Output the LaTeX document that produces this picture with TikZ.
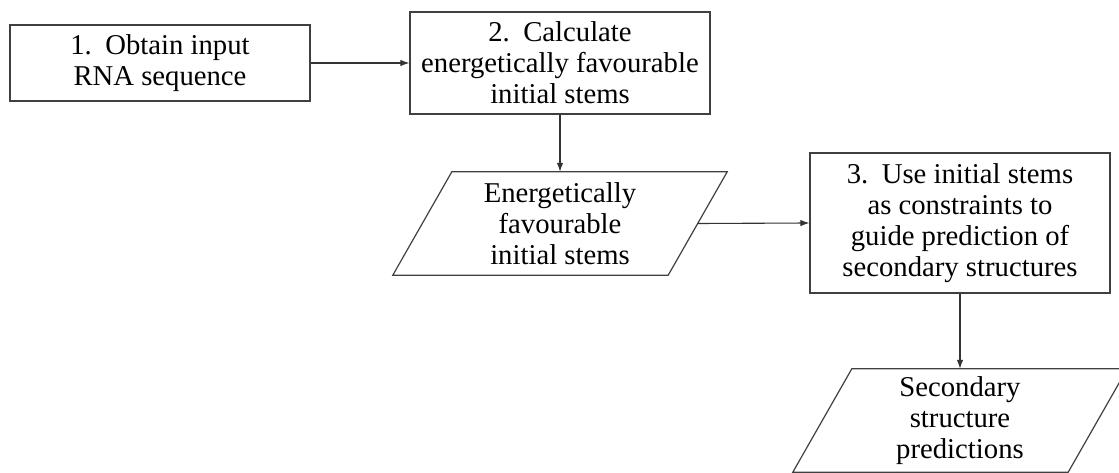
\documentclass[tikz,border=0pt]{standalone}
\usepackage{fontspec}
\setmainfont{Liberation Serif}
\usetikzlibrary{arrows.meta,calc}
\newcommand{\numsp}{\hspace{0.22em}}
\begin{document}
\begin{tikzpicture}[x=1pt,y=-1pt,
  every node/.style={font=\fontsize{28.7}{31}\selectfont, align=center, inner sep=0pt},
  stepbox/.style={draw=black!75, line width=1.2pt, minimum width=300pt},
  databox/.style={draw=none, minimum width=334pt, minimum height=103pt},
  para/.style={draw=black!75, line width=1.2pt},
  conn/.style={draw=black!80, line width=1.1pt, -{Latex[length=9pt,width=6.5pt]}}]
\useasboundingbox (0,0) rectangle (1119,473);
\clip (0,0) rectangle (1119,473);
\node[stepbox, minimum height=76pt] (b1) at (160,63) {1.~\numsp Obtain input\\RNA sequence};
\node[stepbox, minimum height=102pt] (b2) at (560,63) {2.~\numsp Calculate\\energetically favourable\\initial stems};
\node[databox] (p1) at (560,223.5) {Energetically\\favourable\\initial stems};
\node[stepbox, minimum height=140pt] (b3) at (960,223) {3.~\numsp Use initial stems\\as constraints to\\guide prediction of\\secondary structures};
\node[databox] (p2) at (960,420.5) {Secondary\\structure\\predictions};
\draw[para] (p1.south west) -- ($(p1.north west)+(59,0)$) -- (p1.north east) -- ($(p1.south east)-(59,0)$) -- cycle;
\draw[para] (p2.south west) -- ($(p2.north west)+(59,0)$) -- (p2.north east) -- ($(p2.south east)-(59,0)$) -- cycle;
\coordinate (p1r) at ($(p1.east)-(29.5,0)$);
\draw[conn] (b1.east) -- (b2.west);
\draw[conn] (b2.south) -- (p1.north);
\draw[conn] (p1r) -- (b3.west);
\draw[conn] (b3.south) -- (p2.north);
\end{tikzpicture}
\end{document}
